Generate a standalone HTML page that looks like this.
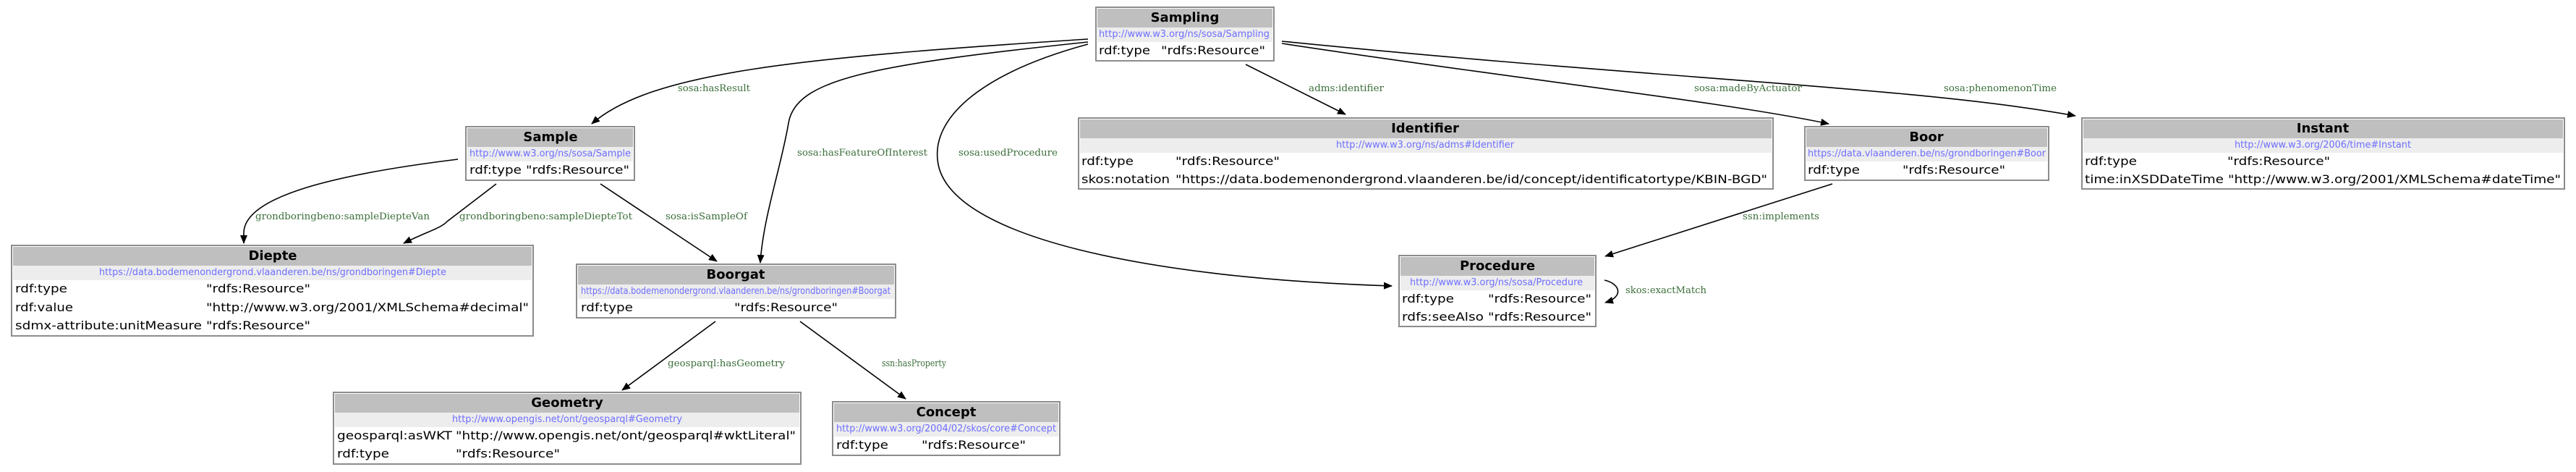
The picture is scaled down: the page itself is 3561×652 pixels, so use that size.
<!DOCTYPE html>
<html><head><meta charset="utf-8">
<style>
html,body{margin:0;padding:0;background:#fff;}
svg{display:block;}
.t{font-family:"DejaVu Sans","Liberation Sans",sans-serif;font-weight:bold;font-size:18px;fill:#000;text-anchor:middle;}
.u{font-family:"DejaVu Sans","Liberation Sans",sans-serif;font-size:13px;fill:#6e6eff;}
.r{font-family:"DejaVu Sans","Liberation Sans",sans-serif;font-size:16px;fill:#000;}
.l{font-family:"DejaVu Serif","Liberation Serif",serif;font-size:13px;fill:#3a6e3a;}
.e{fill:none;stroke:#000;stroke-width:1.6;}
</style></head><body>
<svg width="3561" height="652" viewBox="0 0 3561 652" xmlns="http://www.w3.org/2000/svg">
<defs>
<marker id="a" markerWidth="12" markerHeight="10" refX="11" refY="5" orient="auto" markerUnits="userSpaceOnUse">
<path d="M0,0 L12,5 L0,10 z" fill="#000"/></marker>
</defs>

<!-- edges -->
<path class="e" marker-end="url(#a)" d="M1504,54 C1100,80 900,100 818,171"/>
<path class="e" marker-end="url(#a)" d="M1504,58 C1200,90 1100,110 1090,170 C1080,230 1055,300 1051,363"/>
<path class="e" marker-end="url(#a)" d="M1504,61 C1360,100 1290,160 1296,220 C1305,330 1600,385 1924,395"/>
<path class="e" marker-end="url(#a)" d="M1722,89 L1860,158"/>
<path class="e" marker-end="url(#a)" d="M1772,60 C2100,110 2380,140 2528,171"/>
<path class="e" marker-end="url(#a)" d="M1772,57 C2300,110 2650,120 2869,160"/>
<path class="e" marker-end="url(#a)" d="M633,220 C470,240 337,270 337,322 L337,336"/>
<path class="e" marker-end="url(#a)" d="M686,254 L618,306 C610,315 590,320 558,336"/>
<path class="e" marker-end="url(#a)" d="M830,254 L991,361"/>
<path class="e" marker-end="url(#a)" d="M2533,254 L2219,354"/>
<path class="e" marker-end="url(#a)" d="M2218,387 C2240,392 2245,410 2219,418"/>
<path class="e" marker-end="url(#a)" d="M989,444 L860,539"/>
<path class="e" marker-end="url(#a)" d="M1106,444 L1252,551"/>

<!-- edge labels -->
<text class="l" x="937" y="126" textLength="100" lengthAdjust="spacingAndGlyphs">sosa:hasResult</text>
<text class="l" x="1102" y="215" textLength="180" lengthAdjust="spacingAndGlyphs">sosa:hasFeatureOfInterest</text>
<text class="l" x="1325" y="215" textLength="137" lengthAdjust="spacingAndGlyphs">sosa:usedProcedure</text>
<text class="l" x="1809" y="126" textLength="104" lengthAdjust="spacingAndGlyphs">adms:identifier</text>
<text class="l" x="2342" y="126" textLength="149" lengthAdjust="spacingAndGlyphs">sosa:madeByActuator</text>
<text class="l" x="2687" y="126" textLength="156" lengthAdjust="spacingAndGlyphs">sosa:phenomenonTime</text>
<text class="l" x="353" y="303" textLength="241" lengthAdjust="spacingAndGlyphs">grondboringbeno:sampleDiepteVan</text>
<text class="l" x="635" y="303" textLength="239" lengthAdjust="spacingAndGlyphs">grondboringbeno:sampleDiepteTot</text>
<text class="l" x="920" y="303" textLength="113" lengthAdjust="spacingAndGlyphs">sosa:isSampleOf</text>
<text class="l" x="2409" y="303" textLength="106" lengthAdjust="spacingAndGlyphs">ssn:implements</text>
<text class="l" x="2247" y="405" textLength="112" lengthAdjust="spacingAndGlyphs">skos:exactMatch</text>
<text class="l" x="923" y="506" textLength="162" lengthAdjust="spacingAndGlyphs">geosparql:hasGeometry</text>
<text class="l" x="1219" y="506" textLength="89" lengthAdjust="spacingAndGlyphs">ssn:hasProperty</text>

<!-- Sampling -->
<rect x="1515" y="10" width="246" height="74" fill="#fff" stroke="#8c8c8c" stroke-width="2"/>
<rect x="1517" y="12" width="242" height="26" fill="#bfbfbf"/>
<rect x="1517" y="38" width="242" height="20" fill="#ededed"/>
<text class="t" x="1638" y="30">Sampling</text>
<text class="u" x="1519" y="51" textLength="236" lengthAdjust="spacingAndGlyphs">http://www.w3.org/ns/sosa/Sampling</text>
<text class="r" x="1519" y="75" textLength="71" lengthAdjust="spacingAndGlyphs">rdf:type</text>
<text class="r" x="1605" y="75" textLength="144" lengthAdjust="spacingAndGlyphs">"rdfs:Resource"</text>

<!-- Sample -->
<rect x="644" y="175" width="233" height="74" fill="#fff" stroke="#8c8c8c" stroke-width="2"/>
<rect x="646" y="177" width="229" height="26" fill="#bfbfbf"/>
<rect x="646" y="203" width="229" height="20" fill="#ededed"/>
<text class="t" x="761" y="195">Sample</text>
<text class="u" x="649" y="216" textLength="223" lengthAdjust="spacingAndGlyphs">http://www.w3.org/ns/sosa/Sample</text>
<text class="r" x="649" y="240" textLength="72" lengthAdjust="spacingAndGlyphs">rdf:type</text>
<text class="r" x="727" y="240" textLength="143" lengthAdjust="spacingAndGlyphs">"rdfs:Resource"</text>

<!-- Diepte -->
<rect x="16" y="339" width="721" height="125" fill="#fff" stroke="#8c8c8c" stroke-width="2"/>
<rect x="18" y="341" width="717" height="26" fill="#bfbfbf"/>
<rect x="18" y="367" width="717" height="20" fill="#ededed"/>
<text class="t" x="377" y="359">Diepte</text>
<text class="u" x="137" y="380" textLength="480" lengthAdjust="spacingAndGlyphs">https://data.bodemenondergrond.vlaanderen.be/ns/grondboringen#Diepte</text>
<text class="r" x="21" y="404" textLength="72" lengthAdjust="spacingAndGlyphs">rdf:type</text>
<text class="r" x="285" y="404" textLength="144" lengthAdjust="spacingAndGlyphs">"rdfs:Resource"</text>
<text class="r" x="21" y="430" textLength="80" lengthAdjust="spacingAndGlyphs">rdf:value</text>
<text class="r" x="285" y="430" textLength="446" lengthAdjust="spacingAndGlyphs">"http://www.w3.org/2001/XMLSchema#decimal"</text>
<text class="r" x="21" y="455" textLength="258" lengthAdjust="spacingAndGlyphs">sdmx-attribute:unitMeasure</text>
<text class="r" x="285" y="455" textLength="144" lengthAdjust="spacingAndGlyphs">"rdfs:Resource"</text>

<!-- Boorgat -->
<rect x="797" y="365" width="441" height="74" fill="#fff" stroke="#8c8c8c" stroke-width="2"/>
<rect x="799" y="367" width="437" height="26" fill="#bfbfbf"/>
<rect x="799" y="393" width="437" height="20" fill="#ededed"/>
<text class="t" x="1017" y="385">Boorgat</text>
<text class="u" x="803" y="406" textLength="428" lengthAdjust="spacingAndGlyphs">https://data.bodemenondergrond.vlaanderen.be/ns/grondboringen#Boorgat</text>
<text class="r" x="803" y="430" textLength="72" lengthAdjust="spacingAndGlyphs">rdf:type</text>
<text class="r" x="1015" y="430" textLength="143" lengthAdjust="spacingAndGlyphs">"rdfs:Resource"</text>

<!-- Geometry -->
<rect x="461" y="542" width="646" height="99" fill="#fff" stroke="#8c8c8c" stroke-width="2"/>
<rect x="463" y="544" width="642" height="26" fill="#bfbfbf"/>
<rect x="463" y="570" width="642" height="20" fill="#ededed"/>
<text class="t" x="784" y="562">Geometry</text>
<text class="u" x="625" y="583" textLength="318" lengthAdjust="spacingAndGlyphs">http://www.opengis.net/ont/geosparql#Geometry</text>
<text class="r" x="466" y="607" textLength="159" lengthAdjust="spacingAndGlyphs">geosparql:asWKT</text>
<text class="r" x="630" y="607" textLength="470" lengthAdjust="spacingAndGlyphs">"http://www.opengis.net/ont/geosparql#wktLiteral"</text>
<text class="r" x="466" y="632" textLength="72" lengthAdjust="spacingAndGlyphs">rdf:type</text>
<text class="r" x="630" y="632" textLength="144" lengthAdjust="spacingAndGlyphs">"rdfs:Resource"</text>

<!-- Concept -->
<rect x="1151" y="555" width="314" height="74" fill="#fff" stroke="#8c8c8c" stroke-width="2"/>
<rect x="1153" y="557" width="310" height="26" fill="#bfbfbf"/>
<rect x="1153" y="583" width="310" height="20" fill="#ededed"/>
<text class="t" x="1308" y="575">Concept</text>
<text class="u" x="1156" y="596" textLength="304" lengthAdjust="spacingAndGlyphs">http://www.w3.org/2004/02/skos/core#Concept</text>
<text class="r" x="1156" y="620" textLength="72" lengthAdjust="spacingAndGlyphs">rdf:type</text>
<text class="r" x="1274" y="620" textLength="144" lengthAdjust="spacingAndGlyphs">"rdfs:Resource"</text>

<!-- Identifier -->
<rect x="1491" y="163" width="960" height="98" fill="#fff" stroke="#8c8c8c" stroke-width="2"/>
<rect x="1493" y="165" width="956" height="26" fill="#bfbfbf"/>
<rect x="1493" y="191" width="956" height="20" fill="#ededed"/>
<text class="t" x="1970" y="183">Identifier</text>
<text class="u" x="1847" y="204" textLength="246" lengthAdjust="spacingAndGlyphs">http://www.w3.org/ns/adms#Identifier</text>
<text class="r" x="1495" y="228" textLength="72" lengthAdjust="spacingAndGlyphs">rdf:type</text>
<text class="r" x="1625" y="228" textLength="144" lengthAdjust="spacingAndGlyphs">"rdfs:Resource"</text>
<text class="r" x="1495" y="253" textLength="122" lengthAdjust="spacingAndGlyphs">skos:notation</text>
<text class="r" x="1625" y="253" textLength="818" lengthAdjust="spacingAndGlyphs">"https://data.bodemenondergrond.vlaanderen.be/id/concept/identificatortype/KBIN-BGD"</text>

<!-- Procedure -->
<rect x="1934" y="353" width="272" height="98" fill="#fff" stroke="#8c8c8c" stroke-width="2"/>
<rect x="1936" y="355" width="268" height="26" fill="#bfbfbf"/>
<rect x="1936" y="381" width="268" height="20" fill="#ededed"/>
<text class="t" x="2070" y="373">Procedure</text>
<text class="u" x="1949" y="394" textLength="239" lengthAdjust="spacingAndGlyphs">http://www.w3.org/ns/sosa/Procedure</text>
<text class="r" x="1938" y="418" textLength="72" lengthAdjust="spacingAndGlyphs">rdf:type</text>
<text class="r" x="2057" y="418" textLength="143" lengthAdjust="spacingAndGlyphs">"rdfs:Resource"</text>
<text class="r" x="1938" y="443" textLength="113" lengthAdjust="spacingAndGlyphs">rdfs:seeAlso</text>
<text class="r" x="2057" y="443" textLength="143" lengthAdjust="spacingAndGlyphs">"rdfs:Resource"</text>

<!-- Boor -->
<rect x="2495" y="175" width="337" height="74" fill="#fff" stroke="#8c8c8c" stroke-width="2"/>
<rect x="2497" y="177" width="333" height="26" fill="#bfbfbf"/>
<rect x="2497" y="203" width="333" height="20" fill="#ededed"/>
<text class="t" x="2663" y="195">Boor</text>
<text class="u" x="2499" y="216" textLength="329" lengthAdjust="spacingAndGlyphs">https://data.vlaanderen.be/ns/grondboringen#Boor</text>
<text class="r" x="2499" y="240" textLength="72" lengthAdjust="spacingAndGlyphs">rdf:type</text>
<text class="r" x="2630" y="240" textLength="142" lengthAdjust="spacingAndGlyphs">"rdfs:Resource"</text>

<!-- Instant -->
<rect x="2878" y="163" width="667" height="98" fill="#fff" stroke="#8c8c8c" stroke-width="2"/>
<rect x="2880" y="165" width="663" height="26" fill="#bfbfbf"/>
<rect x="2880" y="191" width="663" height="20" fill="#ededed"/>
<text class="t" x="3211" y="183">Instant</text>
<text class="u" x="3089" y="204" textLength="244" lengthAdjust="spacingAndGlyphs">http://www.w3.org/2006/time#Instant</text>
<text class="r" x="2882" y="228" textLength="72" lengthAdjust="spacingAndGlyphs">rdf:type</text>
<text class="r" x="3079" y="228" textLength="142" lengthAdjust="spacingAndGlyphs">"rdfs:Resource"</text>
<text class="r" x="2882" y="253" textLength="192" lengthAdjust="spacingAndGlyphs">time:inXSDDateTime</text>
<text class="r" x="3080" y="253" textLength="460" lengthAdjust="spacingAndGlyphs">"http://www.w3.org/2001/XMLSchema#dateTime"</text>
</svg>
</body></html>
